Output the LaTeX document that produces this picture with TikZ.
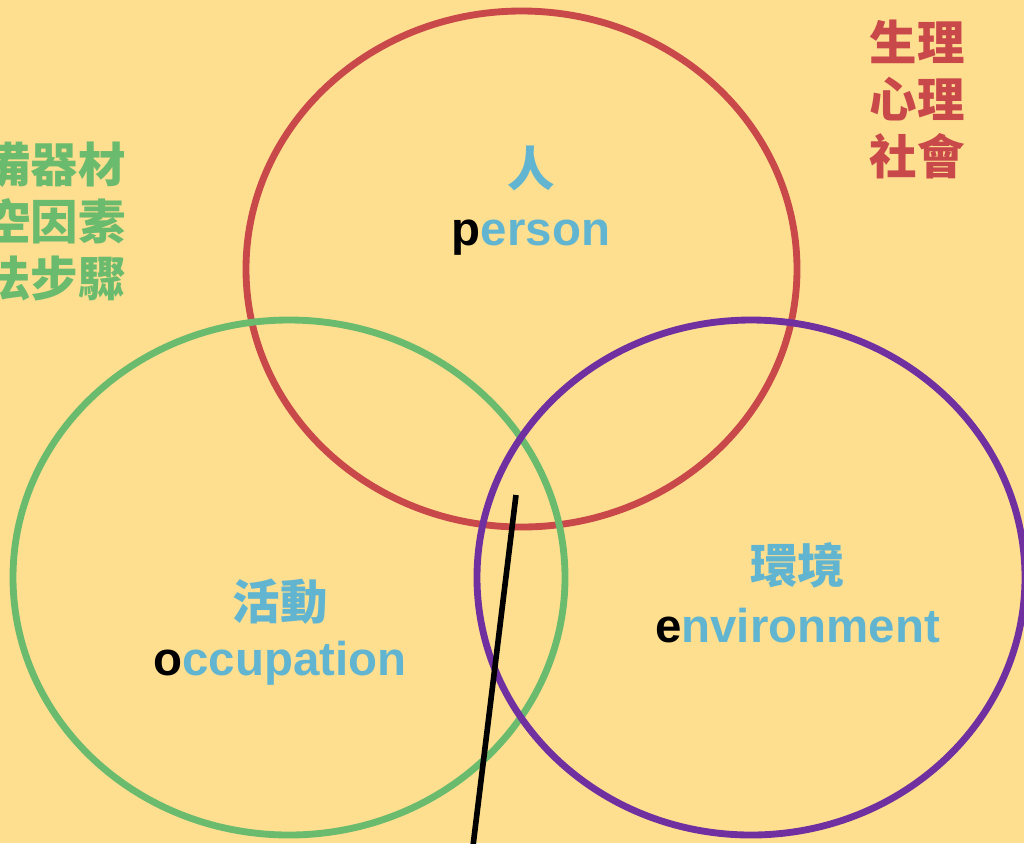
\documentclass[tikz,border=0pt]{standalone}
\usepackage{fontspec}
\setmainfont{Liberation Sans}
\newfontfamily\cjk{Noto Sans CJK TC}
\usepackage{xcolor}
\definecolor{bgyellow}{HTML}{FEDF90}
\definecolor{ringred}{HTML}{C9484A}
\definecolor{ringgreen}{HTML}{6BBB6E}
\definecolor{ringpurple}{HTML}{7030A0}
\definecolor{lblblue}{HTML}{62B5D0}
\tikzset{
	ring/.style={draw=#1, line width=3.9pt},
	zhlbl/.style={inner sep=0pt, text=lblblue, font=\cjk\bfseries\fontsize{27}{32}\selectfont},
	enlbl/.style={inner sep=0pt, anchor=base, text=lblblue, font=\bfseries\fontsize{27}{32}\selectfont},
	sidelbl/.style={inner sep=0pt, text=#1, align=right, font=\cjk\bfseries\fontsize{27}{32.3}\selectfont}
}
\begin{document}
\begin{tikzpicture}[x=0.02cm,y=-0.02cm]
		\clip (0,0) rectangle (1024,843);
		\fill[bgyellow] (0,0) rectangle (1024,843);

		\draw[ring=ringred] (521.5,269) ellipse [x radius=275.5, y radius=258];
		\draw[ring=ringgreen] (289,577.5) ellipse [x radius=276, y radius=257.5];
		\draw[ring=ringpurple] (751,577.5) ellipse [x radius=274, y radius=257.5];

		\coordinate (strokeTop) at (516,495);
		\coordinate (strokeBot) at (472.5,850);
		\draw[line width=3.2pt] (strokeTop) -- (strokeBot);

		\node[zhlbl] (personZh) at (531.5,168) {人};
		\node[enlbl] (personEn) at (531,245) {{\color{black}p}erson};
		\node[zhlbl] (occupZh) at (280,602) {活動};
		\node[enlbl] (occupEn) at (280,675) {{\color{black}o}ccupation};
		\node[zhlbl] (envZh) at (797.5,565) {環境};
		\node[enlbl] (envEn) at (797.5,642) {{\color{black}e}nvironment};

		\node[sidelbl=ringred, anchor=north] (bioText) at (917,20) {生理\\心理\\社會};
		\node[sidelbl=ringgreen, anchor=north east] (toolText) at (126,142) {備器材\\空因素\\法步驟};
	\end{tikzpicture}
\end{document}
